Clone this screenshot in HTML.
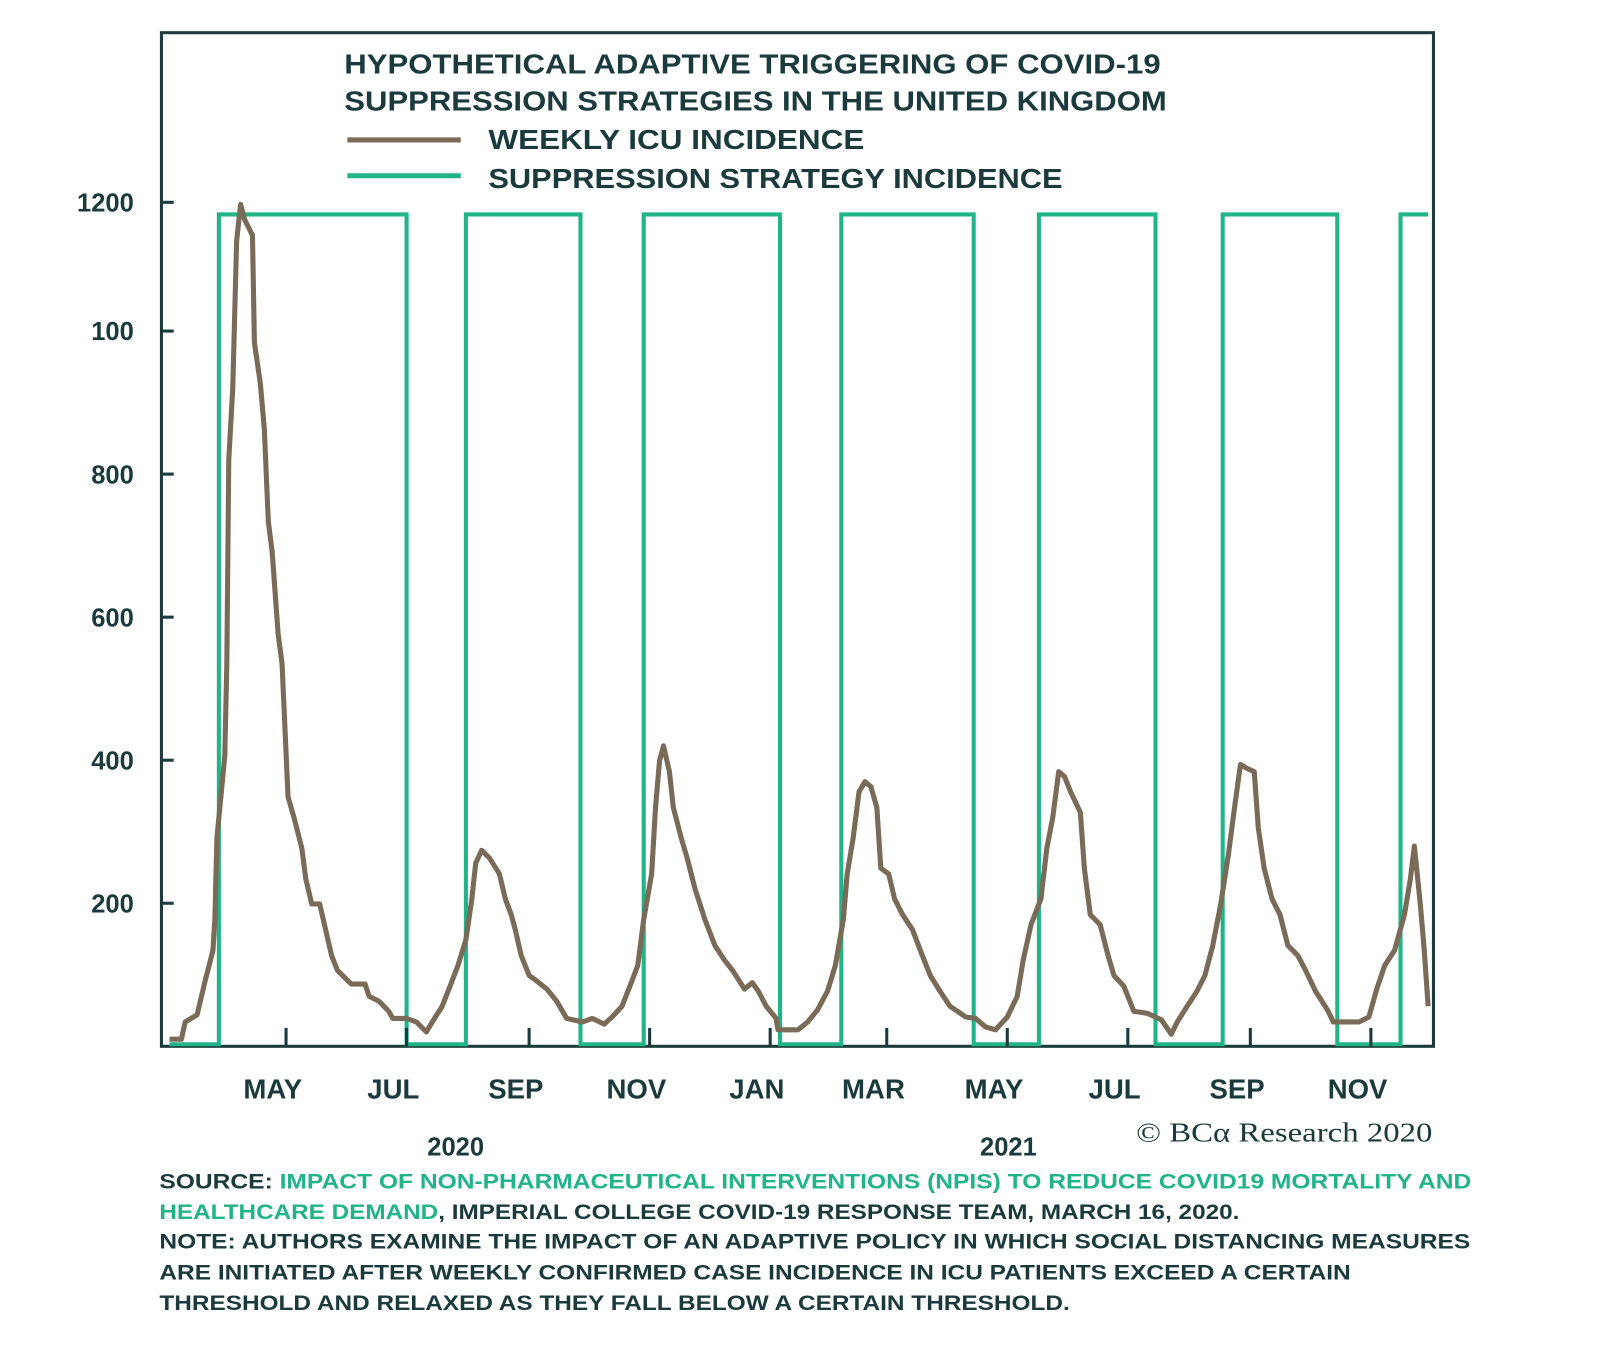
<!DOCTYPE html>
<html><head><meta charset="utf-8"><style>
html,body{margin:0;padding:0;background:#fff;}
svg{display:block;font-family:"Liberation Sans",sans-serif;}
</style></head><body>
<svg id="chart" width="1600" height="1361" viewBox="0 0 1566 1332" preserveAspectRatio="none" xmlns="http://www.w3.org/2000/svg">
<rect x="0" y="0" width="1566" height="1332" fill="#fff"/>
<rect x="158" y="32" width="1245" height="992" fill="none" stroke="#1b3a3b" stroke-width="3"/>
<g id="marks"></g>
<g fill="#1b3a3b" font-weight="bold" font-size="27">
<text x="337" y="72" textLength="799" lengthAdjust="spacingAndGlyphs">HYPOTHETICAL ADAPTIVE TRIGGERING OF COVID-19</text>
<text x="337" y="108" textLength="805" lengthAdjust="spacingAndGlyphs">SUPPRESSION STRATEGIES IN THE UNITED KINGDOM</text>
</g>
<g font-weight="bold" font-size="27" fill="#1b3a3b">
<line x1="340" y1="137" x2="451" y2="137" stroke="#7a6a58" stroke-width="5"/>
<text x="478" y="146" textLength="368" lengthAdjust="spacingAndGlyphs">WEEKLY ICU INCIDENCE</text>
<line x1="340" y1="172" x2="451" y2="172" stroke="#20b488" stroke-width="5"/>
<text x="478" y="184" textLength="562" lengthAdjust="spacingAndGlyphs">SUPPRESSION STRATEGY INCIDENCE</text>
</g>
<g font-weight="bold" font-size="25" fill="#1b3a3b" text-anchor="middle">
<text x="446" y="1131">2020</text>
<text x="987" y="1131">2021</text>
</g>
<text x="1112" y="1117" font-family="'Liberation Serif',serif" font-size="27" fill="#1b3a3b" textLength="290" lengthAdjust="spacingAndGlyphs">© BCα Research 2020</text>
<g font-weight="bold" font-size="21" fill="#1b3a3b">
<text x="156" y="1163" textLength="1284" lengthAdjust="spacingAndGlyphs">SOURCE: <tspan fill="#20b488">IMPACT OF NON-PHARMACEUTICAL INTERVENTIONS (NPIS) TO REDUCE COVID19 MORTALITY AND</tspan></text>
<text x="156" y="1193" textLength="1057" lengthAdjust="spacingAndGlyphs"><tspan fill="#20b488">HEALTHCARE DEMAND</tspan>, IMPERIAL COLLEGE COVID-19 RESPONSE TEAM, MARCH 16, 2020.</text>
<text x="156" y="1222" textLength="1283" lengthAdjust="spacingAndGlyphs">NOTE: AUTHORS EXAMINE THE IMPACT OF AN ADAPTIVE POLICY IN WHICH SOCIAL DISTANCING MEASURES</text>
<text x="156" y="1252" textLength="1166" lengthAdjust="spacingAndGlyphs">ARE INITIATED AFTER WEEKLY CONFIRMED CASE INCIDENCE IN ICU PATIENTS EXCEED A CERTAIN</text>
<text x="156" y="1282" textLength="891" lengthAdjust="spacingAndGlyphs">THRESHOLD AND RELAXED AS THEY FALL BELOW A CERTAIN THRESHOLD.</text>
</g>
</svg>
<script>
// days since 1 Mar 2020
const icuDays = [2,8,10,16,20,24,25,26,30,31,32,34,36,38,40,44,45,48,50,52,54,57,59,62,65,69,71,74,78,81,84,87,94,101,103,108,113,115,122,127,132,135,140,144,148,152,155,157,160,164,169,172,175,177,180,184,188,193,198,203,211,216,222,226,231,235,239,242,246,248,250,252,255,257,261,264,268,273,278,283,287,293,297,300,304,309,310,320,325,330,335,339,343,345,348,351,354,357,360,362,366,369,373,378,383,387,392,397,405,410,415,420,426,431,434,438,443,446,449,452,455,458,463,465,468,473,477,480,485,490,497,504,509,512,517,522,526,530,534,538,541,544,547,551,553,556,560,564,568,573,577,582,588,591,604,609,613,617,622,627,630,632,635,637,639];
const icuValues = [10,10,34,44,91,134,177,291,406,534,820,920,1126,1177,1156,1134,984,927,863,734,691,577,534,349,320,277,234,199,199,163,127,106,87,87,70,63,49,39,39,34,20,34,56,84,113,149,206,256,274,263,241,206,184,163,127,99,91,80,63,39,34,39,31,41,56,84,113,177,241,334,399,420,384,334,291,263,220,177,141,120,106,80,89,77,56,39,23,23,34,51,77,113,177,241,291,356,370,363,334,249,241,206,184,163,127,99,77,56,41,39,27,23,41,70,120,170,206,277,320,384,377,356,327,249,184,170,127,99,84,49,46,37,17,34,56,77,99,141,199,270,334,394,389,384,306,249,206,184,141,127,106,77,51,34,34,41,80,113,134,184,234,280,199,134,56];
const suppressionStart = [27,152,242,342,442,535,625];
const suppressionEnd = [122,210,311,409,501,593,639];
const suppressionLevel = 1163;
const yTickValues = [200,400,600,800,1000,1180];
const yTickLabels = ["200","400","600","800","100","1200"];
const monthTickDays = [61,122,184,245,306,365,426,487,549,610];
const monthLabels = ["MAY","JUL","SEP","NOV","JAN","MAR","MAY","JUL","SEP","NOV"];

const NS = "http://www.w3.org/2000/svg";
const xScale = d => 162 + d * 1.934;
const yScale = v => 1024 - v * 0.7;
const g = document.getElementById('marks');
function mk(tag, attrs){const e=document.createElementNS(NS,tag);for(const k in attrs)e.setAttribute(k,attrs[k]);return e;}

let sp = "M" + xScale(2) + "," + (yScale(0)-2);
for (let i=0;i<suppressionStart.length;i++){
  const x0=xScale(suppressionStart[i]), x1=xScale(suppressionEnd[i]), yt=yScale(suppressionLevel), yb=yScale(0)-2;
  sp += " L"+x0+","+yb+" L"+x0+","+yt+" L"+x1+","+yt;
  if (i<suppressionStart.length-1) sp += " L"+x1+","+yb;
}
const sup = mk('path',{d:sp,fill:'none',stroke:'#20b488','stroke-width':4,'stroke-linejoin':'miter'});


g.appendChild(sup);

let ip = icuDays.map((d,i)=>(i?"L":"M")+xScale(d).toFixed(1)+","+yScale(icuValues[i]).toFixed(1)).join(" ");
const icu = mk('path',{d:ip,fill:'none',stroke:'#7a6a58','stroke-width':5,'stroke-linejoin':'round'});


g.appendChild(icu);

yTickValues.forEach((v,i)=>{
  const y=yScale(v);
  const t=mk('line',{x1:158,y1:y,x2:170,y2:y,stroke:'#1b3a3b','stroke-width':3});
  
  
  g.appendChild(t);
  const l=mk('text',{x:131,y:y+9,'text-anchor':'end','font-size':25,'font-weight':'bold',fill:'#1b3a3b'});
  l.textContent=yTickLabels[i];
  
  
  g.appendChild(l);
});
monthTickDays.forEach((d,i)=>{
  const x=xScale(d);
  const t=mk('line',{x1:x,y1:1024,x2:x,y2:1006,stroke:'#1b3a3b','stroke-width':3});
  
  
  g.appendChild(t);
  const l=mk('text',{x:x-13,y:1075,'text-anchor':'middle','font-size':27,'font-weight':'bold',fill:'#1b3a3b'});
  l.textContent=monthLabels[i];
  
  
  g.appendChild(l);
});
</script>
</body></html>
